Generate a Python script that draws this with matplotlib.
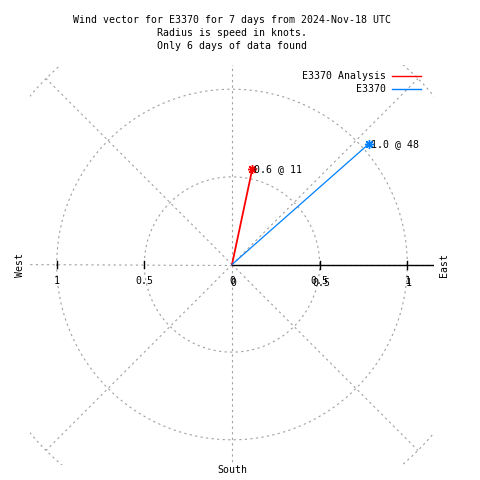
import numpy as np
import matplotlib
matplotlib.use("Agg")
import matplotlib.pyplot as plt

# data: wind vectors (speed in knots, direction in degrees from north)
series = ["E3370 Analysis", "E3370"]
speeds = [0.555, 1.04]
directions = [12.0, 48.6]
labels = ["0.6 @ 11", "1.0 @ 48"]
colors = ["#ff0000", "#0080ff"]
widths = [1.3, 0.9]

grid_radii = [0.5, 1.0, 1.5]
grid_angles = [0, 45, 90, 135, 180, 225, 270, 315]
tick_vals = [0.5, 1.0]

title = ("Wind vector for E3370 for 7 days from 2024-Nov-18 UTC\n"
         "Radius is speed in knots.\n"
         "Only 6 days of data found")

plt.rcParams['font.family'] = ['DejaVu Sans Mono']
fs = 7.15

fig = plt.figure(figsize=(4.8, 4.8), dpi=100)
# plot area in pixels: x 30..434, y 65..465, origin at (232, 264.5)
ax = fig.add_axes([30 / 480, 1 - 465 / 480, 404 / 480, 400 / 480])
scale = 175.3
ax.set_xlim((30 - 232) / scale, (434 - 232) / scale)
ax.set_ylim((264.5 - 465) / scale, (264.5 - 65) / scale)
ax.axis("off")

gray = "#a0a0a0"
t = np.linspace(0, 2 * np.pi, 400)
for r in grid_radii:
    ax.plot(r * np.cos(t), r * np.sin(t), color=gray, lw=0.8, ls=(0, (2, 3)))
for a in grid_angles:
    th = np.radians(a)
    ax.plot([0, 1.5 * np.cos(th)], [0, 1.5 * np.sin(th)], color=gray, lw=0.8, ls=(0, (2, 3)))

# r axis
ax.plot([0, 2], [0, 0], color="black", lw=1.0)
tick_h = 4 / scale
for v in tick_vals:
    ax.plot([v, v], [-tick_h, tick_h], color="black", lw=1.0)
    ax.plot([-v, -v], [-tick_h * 0.8, tick_h * 0.8], color="black", lw=1.0)

def fmt(v):
    return "%g" % v

# tick labels are drawn twice (polar r labels + x labels), as in the original
for v in [0.0] + tick_vals:
    ax.text(v, -16 / scale, fmt(v), ha="center", va="center", fontsize=fs)
    ax.text(v + 1.5 / scale, -19 / scale, fmt(v), ha="center", va="center", fontsize=fs)
for v in tick_vals:
    ax.text(-v, -16 / scale, fmt(v), ha="center", va="center", fontsize=fs)

# vectors
for name, s, d, lab, c, w in zip(series, speeds, directions, labels, colors, widths):
    th = np.radians(90 - d)
    x, y = s * np.cos(th), s * np.sin(th)
    ax.plot([0, x], [0, y], color=c, lw=w, label=name)
    ax.plot([x], [y], marker=(8, 2, 0), color=c, ms=6.5, mew=1.0)
    ax.text(x + 2 / scale, y, lab, ha="left", va="center", fontsize=fs)

fig.text(232 / 480, 1 - 33 / 480, title, ha="center", va="center", fontsize=fs,
         linespacing=1.35)
fig.text(20 / 480, 1 - 265 / 480, "West", rotation=90, ha="center", va="center", fontsize=fs)
fig.text(444 / 480, 1 - 265 / 480, "East", rotation=90, ha="center", va="center", fontsize=fs)
fig.text(232 / 480, 1 - 470 / 480, "South", ha="center", va="center", fontsize=fs)

# legend
for i, (name, c) in enumerate(zip(series, colors)):
    yy = 1 - (76 + 12.5 * i) / 480
    fig.text(386 / 480, yy, name, ha="right", va="center", fontsize=fs)
    fig.add_artist(plt.Line2D([392 / 480, 421 / 480], [yy, yy], color=c, lw=1.0))

fig.savefig("out.png", dpi=100)
